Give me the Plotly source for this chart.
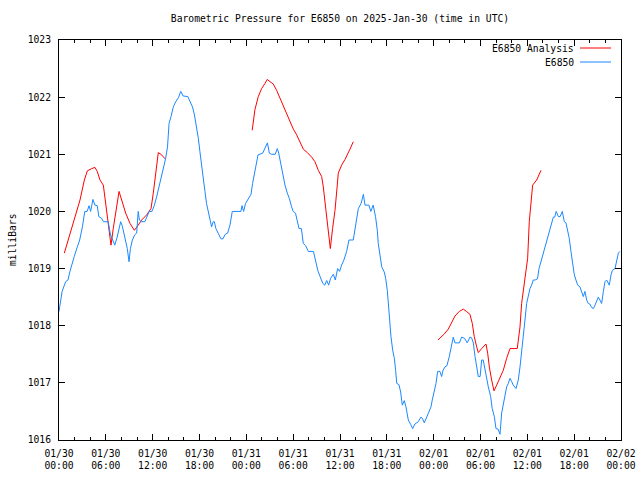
import pandas as pd
import plotly.graph_objects as go

BASE = "2025-01-30 00:00"

# E6850 observations: hours since 01/30 00:00 UTC, pressure (mb)
obs_hours = [0.0, 0.4, 0.85, 1.15, 1.4, 1.65, 1.95, 2.35, 2.65, 3.0, 3.3, 3.6, 3.85, 4.05, 4.35, 4.6, 4.9, 5.1, 5.45, 5.7,
             6.3, 6.6, 6.85, 7.15, 7.45, 7.9, 8.1, 8.5, 8.75, 8.97, 9.15, 9.4, 9.7, 9.95, 10.15, 10.3, 10.55, 11.0, 11.3, 11.55,
             11.9, 12.2, 12.5, 12.75, 13.05, 13.35, 13.65, 13.9, 14.1, 14.35, 14.65, 14.95, 15.3, 15.6, 15.9, 16.5, 16.8, 17.1, 17.35, 17.65,
             17.85, 18.05, 18.3, 18.5, 18.7, 18.9, 19.15, 19.35, 19.55, 19.75, 19.9, 20.1, 20.4, 20.75, 21.0, 21.3, 21.6, 21.9, 22.2, 23.3,
             23.45, 23.65, 23.9, 24.25, 24.6, 24.8, 25.0, 25.25, 25.5, 26.1, 26.4, 26.7, 26.95, 27.25, 27.7, 27.97, 28.15, 28.4, 28.65, 28.95,
             29.25, 29.5, 29.8, 30.0, 30.3, 30.5, 30.75, 31.05, 31.3, 31.6, 31.95, 32.6, 32.9, 33.15, 33.45, 33.8, 34.05, 34.3, 34.55, 34.8,
             35.15, 35.4, 35.7, 35.95, 36.2, 36.5, 36.85, 37.15, 37.7, 37.9, 38.15, 38.35, 38.7, 39.0, 39.2, 39.7, 39.95, 40.25, 40.55, 40.78,
             40.9, 41.12, 41.35, 41.67, 41.85, 42.06, 42.2, 42.4, 42.53, 42.75, 42.96, 43.13, 43.27, 43.55, 43.77, 43.98, 44.24, 44.45, 44.75, 45.06,
             45.31, 45.6, 46.03, 46.37, 46.55, 46.8, 47.1, 47.4, 47.66, 47.82, 48.08, 48.3, 48.51, 48.8, 49.02, 49.2, 49.45, 49.7, 50.0, 50.3,
             50.51, 50.73, 51.3, 51.58, 51.95, 52.3, 52.65, 52.85, 53.08, 53.3, 53.51, 53.72, 53.95, 54.15, 54.35, 54.57, 54.79, 55.0, 55.3, 55.5,
             55.77, 55.98, 56.25, 56.5, 56.71, 56.92, 57.14, 57.35, 57.56, 57.78, 58.0, 58.2, 58.55, 58.84, 59.06, 59.27, 59.48, 59.7, 59.91, 60.12,
             60.34, 60.55, 60.76, 61.0, 61.3, 61.5, 61.75, 62.04, 62.26, 62.48, 62.69, 62.9, 63.12, 63.33, 63.5, 63.7, 63.97, 64.2, 64.48, 64.74,
             64.95, 65.17, 65.37, 65.59, 65.81, 66.02, 66.23, 66.45, 66.74, 66.96, 67.17, 67.38, 67.6, 67.81, 68.0, 68.24, 68.46, 68.67, 68.88, 69.09,
             69.3, 69.52, 69.74, 69.95, 70.16, 70.35, 70.5, 70.72, 70.9, 71.23, 71.45, 71.66, 71.85]
obs_mb = [1018.25, 1018.60, 1018.77, 1018.80, 1018.95, 1019.09, 1019.21, 1019.38, 1019.50, 1019.73, 1020.0, 1020.0, 1020.10, 1020.0, 1020.21, 1020.11, 1020.10, 1019.91, 1019.88, 1019.82,
          1019.82, 1019.59, 1019.50, 1019.41, 1019.55, 1019.82, 1019.75, 1019.50, 1019.35, 1019.12, 1019.35, 1019.50, 1019.59, 1019.62, 1020.0, 1019.85, 1019.82, 1019.82, 1019.91, 1020.0,
          1020.0, 1020.10, 1020.25, 1020.40, 1020.55, 1020.78, 1020.92, 1021.13, 1021.54, 1021.66, 1021.83, 1021.92, 1021.99, 1022.10, 1022.02, 1022.01, 1021.92, 1021.83, 1021.69, 1021.45,
          1021.28, 1021.05, 1020.81, 1020.58, 1020.35, 1020.14, 1020.0, 1019.88, 1019.73, 1019.82, 1019.82, 1019.70, 1019.62, 1019.52, 1019.52, 1019.60, 1019.62, 1019.76, 1020.0, 1020.0,
          1020.1, 1020.0, 1020.14, 1020.23, 1020.30, 1020.49, 1020.63, 1020.78, 1020.99, 1021.02, 1021.10, 1021.20, 1021.02, 1021.0, 1021.0, 1021.10, 1021.02, 1020.84, 1020.61, 1020.46,
          1020.32, 1020.23, 1020.08, 1020.0, 1019.97, 1019.82, 1019.70, 1019.70, 1019.44, 1019.40, 1019.30, 1019.30, 1019.09, 1018.97, 1018.86, 1018.74, 1018.71, 1018.79, 1018.71, 1018.83,
          1018.90, 1018.80, 1019.0, 1018.95, 1019.06, 1019.15, 1019.30, 1019.50, 1019.50, 1019.67, 1019.85, 1020.05, 1020.14, 1020.30, 1020.11, 1020.11, 1020.0, 1020.11, 1019.91, 1019.67,
          1019.44, 1019.21, 1019.03, 1018.94, 1018.83, 1018.62, 1018.33, 1017.98, 1017.81, 1017.57, 1017.43, 1017.22, 1016.99, 1016.97, 1016.84, 1016.61, 1016.69, 1016.58, 1016.35, 1016.27,
          1016.20, 1016.28, 1016.32, 1016.40, 1016.38, 1016.30, 1016.40, 1016.48, 1016.58, 1016.70, 1016.84, 1016.99, 1017.20, 1017.20, 1017.11, 1017.22, 1017.28, 1017.30, 1017.46, 1017.63,
          1017.80, 1017.70, 1017.70, 1017.80, 1017.78, 1017.70, 1017.80, 1017.79, 1017.70, 1017.46, 1017.25, 1017.11, 1017.11, 1017.40, 1017.40, 1017.22, 1017.05, 1016.93, 1016.76, 1016.55,
          1016.41, 1016.20, 1016.19, 1016.10, 1016.47, 1016.61, 1016.82, 1016.93, 1016.99, 1017.08, 1017.02, 1016.96, 1016.90, 1017.05, 1017.28, 1017.52, 1017.81, 1018.10, 1018.39, 1018.51,
          1018.65, 1018.71, 1018.80, 1018.80, 1018.82, 1019.0, 1019.12, 1019.27, 1019.38, 1019.50, 1019.59, 1019.67, 1019.79, 1019.90, 1019.90, 1020.0, 1019.91, 1019.91, 1020.0, 1019.82,
          1019.80, 1019.65, 1019.53, 1019.30, 1019.09, 1018.89, 1018.80, 1018.71, 1018.68, 1018.60, 1018.51, 1018.60, 1018.45, 1018.39, 1018.38, 1018.32, 1018.30, 1018.36, 1018.45, 1018.50,
          1018.45, 1018.39, 1018.60, 1018.77, 1018.80, 1018.75, 1018.71, 1018.89, 1018.97, 1019.0, 1019.15, 1019.27, 1019.30]

# E6850 Analysis: three separate runs
ana1_hours = [0.68, 1.41, 2.05, 2.69, 3.25, 3.63, 4.19, 4.61, 4.9, 5.25, 5.68, 5.89, 6.19, 6.45, 6.66, 6.95, 7.26, 7.69, 8.03, 8.54,
              9.1, 9.65, 10.1, 10.59, 11.23, 11.79, 12.08, 12.39, 12.72, 13.15, 13.6]
ana1_mb = [1019.27, 1019.62, 1019.91, 1020.20, 1020.55, 1020.71, 1020.75, 1020.77, 1020.70, 1020.55, 1020.46, 1020.23, 1019.91, 1019.62, 1019.41, 1019.70, 1019.97, 1020.35, 1020.20, 1019.97,
           1019.79, 1019.67, 1019.75, 1019.85, 1019.94, 1020.05, 1020.32, 1020.67, 1021.03, 1020.99, 1020.92]
ana2_hours = [24.75, 25.1, 25.53, 25.96, 26.39, 26.68, 27.05, 27.45, 27.88, 28.31, 28.74, 29.17, 29.59, 30.02, 30.45, 30.87, 31.3, 31.81, 32.37, 32.79,
              33.22, 33.65, 33.86, 34.2, 34.5, 34.76, 35.05, 35.36, 35.65, 35.78, 36.21, 36.64, 37.28, 37.7]
ana2_mb = [1021.42, 1021.78, 1022.01, 1022.15, 1022.24, 1022.31, 1022.27, 1022.23, 1022.12, 1021.98, 1021.83, 1021.69, 1021.57, 1021.44, 1021.34, 1021.20, 1021.09, 1021.03, 1020.95, 1020.87,
           1020.72, 1020.61, 1020.43, 1020.02, 1019.62, 1019.35, 1019.70, 1020.02, 1020.46, 1020.67, 1020.81, 1020.91, 1021.09, 1021.22]
ana3_hours = [48.55, 49.32, 49.87, 50.3, 50.73, 51.28, 51.8, 52.2, 52.65, 52.95, 53.2, 53.51, 53.72, 54.15, 54.7, 54.92, 55.13, 55.43, 55.73, 56.07,
              56.5, 56.92, 57.35, 57.78, 58.71, 59.06, 59.27, 59.57, 59.83, 60.04, 60.25, 60.46, 60.68, 61.2, 61.62, 61.75]
ana3_mb = [1017.75, 1017.85, 1017.94, 1018.07, 1018.17, 1018.25, 1018.29, 1018.25, 1018.20, 1018.04, 1017.81, 1017.63, 1017.53, 1017.60, 1017.68, 1017.52, 1017.28, 1017.05, 1016.86, 1016.96,
           1017.08, 1017.22, 1017.43, 1017.60, 1017.60, 1017.98, 1018.39, 1018.68, 1018.97, 1019.18, 1019.82, 1020.08, 1020.46, 1020.55, 1020.67, 1020.72]

tick_hours = [0, 6, 12, 18, 24, 30, 36, 42, 48, 54, 60, 66, 72]
tick_labels = ["01/30<br>00:00", "01/30<br>06:00", "01/30<br>12:00", "01/30<br>18:00",
               "01/31<br>00:00", "01/31<br>06:00", "01/31<br>12:00", "01/31<br>18:00",
               "02/01<br>00:00", "02/01<br>06:00", "02/01<br>12:00", "02/01<br>18:00",
               "02/02<br>00:00"]
y_ticks = [1016, 1017, 1018, 1019, 1020, 1021, 1022, 1023]

base = pd.Timestamp(BASE)


def to_time(hours):
    return [base + pd.Timedelta(hours=h) for h in hours]


ana_x, ana_y = [], []
for hs, vs in [(ana1_hours, ana1_mb), (ana2_hours, ana2_mb), (ana3_hours, ana3_mb)]:
    if ana_x:
        ana_x.append(None)
        ana_y.append(None)
    ana_x += to_time(hs)
    ana_y += vs

RED = "#ff0000"
BLUE = "#1a88ff"
FONT = "DejaVu Sans Mono"

fig = go.Figure()
fig.add_trace(go.Scatter(x=ana_x, y=ana_y, mode="lines", name="E6850 Analysis",
                         line=dict(color=RED, width=1), connectgaps=False))
fig.add_trace(go.Scatter(x=to_time(obs_hours), y=obs_mb, mode="lines", name="E6850",
                         line=dict(color=BLUE, width=1)))

fig.update_layout(
    width=640, height=480,
    margin=dict(l=59, r=19, t=40, b=40, autoexpand=False),
    paper_bgcolor="white", plot_bgcolor="white",
    showlegend=False,
    font=dict(family=FONT, size=10, color="black"),
    title=dict(text="Barometric Pressure for E6850 on 2025-Jan-30 (time in UTC)",
               xref="container", yref="container", x=340 / 640, y=1 - 19 / 480,
               xanchor="center", yanchor="middle", font=dict(family=FONT, size=9.7, color="black")),
)
fig.update_xaxes(
    type="date", range=[base, base + pd.Timedelta(hours=72)], automargin=False,
    tickmode="array", tickvals=to_time(tick_hours), ticktext=tick_labels,
    ticks="inside", ticklen=6, tickcolor="black", tickwidth=1,
    minor=dict(ticks="inside", ticklen=3, tickcolor="black", tickmode="linear",
               tick0=base, dtick=2 * 3600 * 1000),
    showline=True, linecolor="black", linewidth=1, mirror="allticks",
    showgrid=False, zeroline=False, ticklabelstandoff=4,
    tickfont=dict(family=FONT, size=9.7),
)
fig.update_yaxes(
    range=[1016, 1023], tickmode="array", tickvals=y_ticks, automargin=False,
    ticks="inside", ticklen=6, tickcolor="black", tickwidth=1,
    showline=True, linecolor="black", linewidth=1, mirror="allticks",
    showgrid=False, zeroline=False, ticklabelstandoff=5,
    tickfont=dict(family=FONT, size=9.7),
)

# y axis label
fig.add_annotation(text="milliBars", xref="paper", yref="paper", x=0, y=0.5,
                   xshift=-47, textangle=-90, showarrow=False,
                   font=dict(family=FONT, size=9.7), xanchor="center", yanchor="middle")

# gnuplot-style key: text then line sample
key = [("E6850 Analysis", RED, 48), ("E6850", BLUE, 62)]
for label, color, ypx in key:
    yp = (440 - ypx) / 400
    fig.add_annotation(text=label, xref="paper", yref="paper", x=(576 - 59) / 562, y=yp,
                       xanchor="right", yanchor="middle", showarrow=False,
                       font=dict(family=FONT, size=9.7))
    fig.add_shape(type="line", xref="paper", yref="paper",
                  x0=(580 - 59) / 562, x1=(611 - 59) / 562, y0=yp, y1=yp,
                  line=dict(color=color, width=1))

fig.write_html("out.html", config={"displayModeBar": False},
               post_script="document.body.style.margin='0';")
